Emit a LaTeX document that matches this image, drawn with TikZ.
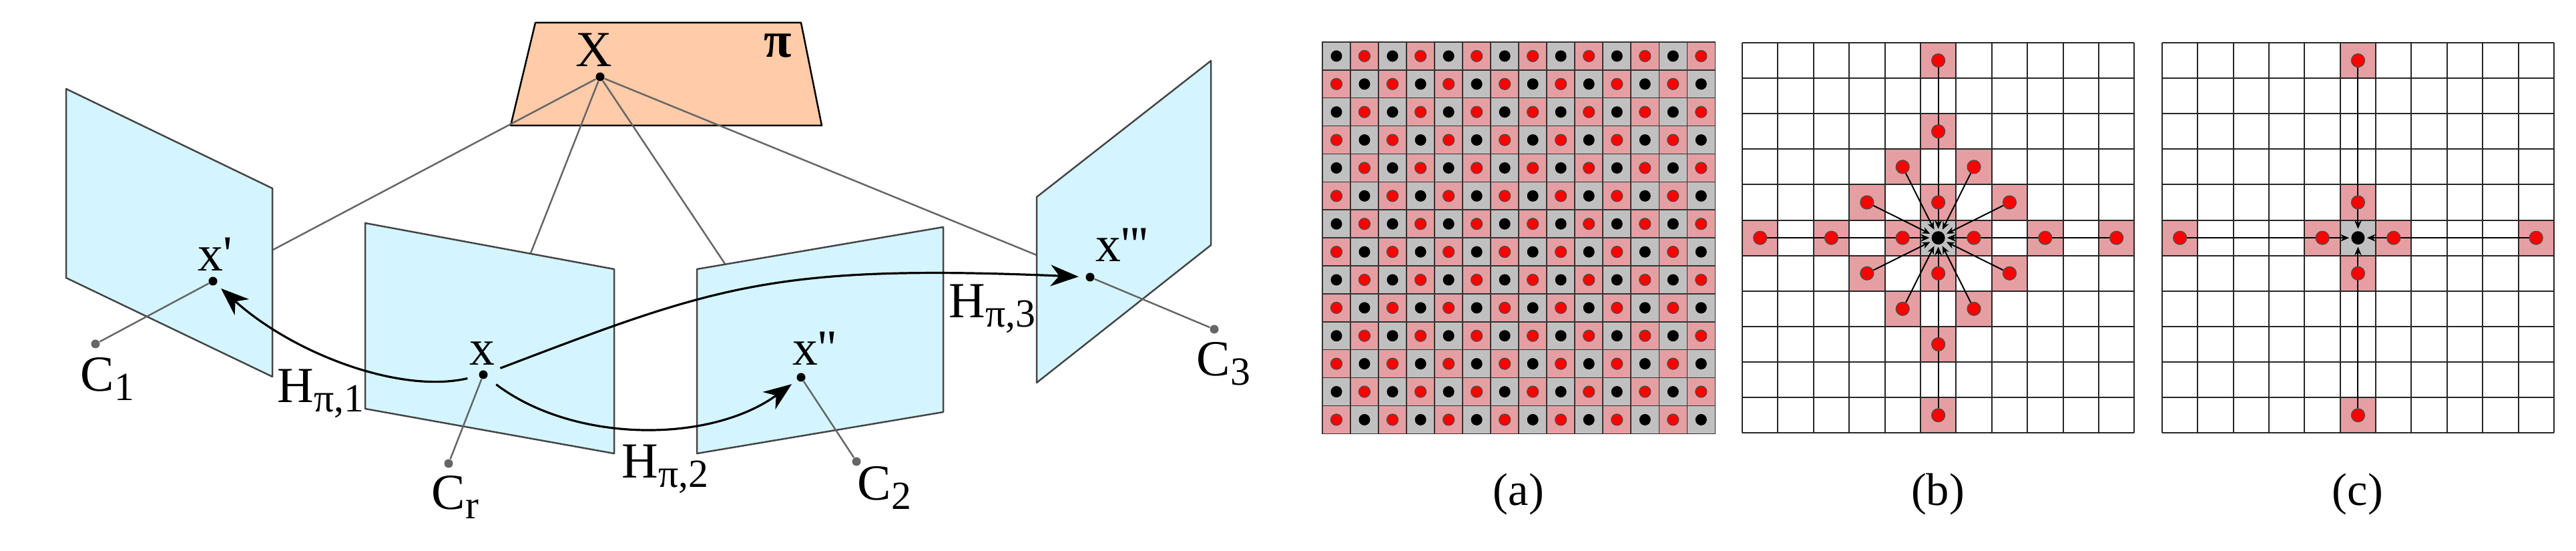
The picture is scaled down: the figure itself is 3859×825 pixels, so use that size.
\documentclass[tikz,border=0pt]{standalone}
\usepackage{fontspec}
\setmainfont{Liberation Serif}
\newfontfamily\rawserif{Liberation Serif}
\usetikzlibrary{arrows.meta}
\definecolor{planeblue}{HTML}{D4F5FF}
\definecolor{planepeach}{HTML}{FFCBA8}
\definecolor{cellpink}{HTML}{E59FA2}
\definecolor{cellgray}{HTML}{C0C0C0}
\definecolor{edgegray}{HTML}{454545}
\definecolor{raygray}{HTML}{666666}
\pgfdeclarelayer{under}
\pgfsetlayers{under,main}
\newcommand{\lowsub}[1]{\raisebox{-0.13cm}{\fontsize{17}{18}\selectfont #1}}
\tikzset{
  viewplane/.style={draw=edgegray,line width=0.025cm,fill=planeblue,line join=round},
  refplane/.style={draw=black,line width=0.025cm,fill=planepeach,line join=round},
  rayline/.style={draw=raygray,line width=0.025cm},
  warparrow/.style={-{Stealth[length=0.42cm,width=0.32cm,inset=0.13cm]},line width=0.032cm,draw=black},
  imgdot/.style={circle,fill=black,inner sep=0pt,minimum size=0.13cm},
  camdot/.style={circle,fill=raygray,inner sep=0pt,minimum size=0.13cm},
  figtext/.style={inner sep=0pt,font=\fontsize{21.5}{24}\selectfont},
  captext/.style={inner sep=0pt,font=\fontsize{19.5}{22}\selectfont},
  pinkcell/.style={fill=cellpink},
  graycell/.style={fill=cellgray},
  cellbox/.style={draw=black!80,line width=0.016cm,minimum size=0.42cm,inner sep=0pt},
  reddot/.style={circle,draw=black!70,line width=0.012cm,fill=red,inner sep=0pt,minimum size=0.2cm},
  blackdot/.style={circle,fill=black,inner sep=0pt,minimum size=0.2cm},
  gridline/.style={draw=black!85,line width=0.02cm},
  kernelarrow/.style={-{Stealth[length=0.12cm,width=0.1cm]},line width=0.02cm,draw=black,shorten >=0.03cm}
}
\begin{document}
\begin{tikzpicture}[x=0.01cm,y=-0.01cm]
\useasboundingbox (0,0) rectangle (3859,825);
\coordinate (hitone) at (409,374);
\coordinate (hitref) at (795,379);
\coordinate (hittwo) at (1086,395);
\coordinate (hitthree) at (1553,382);
\draw[refplane] (802,34) -- (1200,34) -- (1231,188) -- (765,188) -- cycle;
\node[imgdot] (ptX) at (899,115) {};
\node[figtext,anchor=base] (labX) at (890,100) {X};
\node[figtext,anchor=base,font=\fontsize{21.5}{24}\selectfont\bfseries] (labpi) at (1165,86) {π};
\draw[rayline] (ptX) -- (hitone);
\draw[rayline] (ptX) -- (hitref);
\draw[rayline] (ptX) -- (hittwo);
\draw[rayline] (ptX) -- (hitthree);
\draw[viewplane] (99,133) -- (408,282) -- (408,564) -- (99,416) -- cycle;
\draw[viewplane] (547,334) -- (920,403) -- (920,679) -- (547,612) -- cycle;
\draw[viewplane] (1044,403) -- (1413,340) -- (1413,617) -- (1044,679) -- cycle;
\draw[viewplane] (1553,295) -- (1814,91) -- (1814,367) -- (1553,573) -- cycle;
\node[imgdot] (ptone) at (319,421) {};
\node[imgdot] (ptref) at (724,561) {};
\node[imgdot] (pttwo) at (1200,565) {};
\node[imgdot] (ptthree) at (1633,415) {};
\node[camdot] (camone) at (143,515) {};
\node[camdot] (camref) at (672,694) {};
\node[camdot] (camtwo) at (1283,691) {};
\node[camdot] (camthree) at (1819,493) {};
\draw[rayline] (camone) -- (ptone);
\draw[rayline] (camref) -- (ptref);
\draw[rayline] (camtwo) -- (pttwo);
\draw[rayline] (camthree) -- (ptthree);
\draw[warparrow,shorten <=0.17cm,shorten >=0.09cm] (ptref) .. controls (600,590) and (440,530) .. (ptone);
\draw[warparrow,shorten <=0.17cm,shorten >=0.1cm] (ptref) .. controls (860,664) and (1064,664) .. (pttwo);
\draw[warparrow,shorten <=0.2cm,shorten >=0.1cm] (ptref) .. controls (1071,429) and (1157,395) .. (ptthree);
\node[figtext,anchor=base west] (labone) at (296,406) {x{\rawserif'}};
\node[figtext,anchor=base west] (labref) at (703,547) {x};
\node[figtext,anchor=base west] (labtwo) at (1187,547) {x{\rawserif''}};
\node[figtext,anchor=base west] (labthree) at (1641,392) {x{\rawserif'''}};
\node[figtext,anchor=base west] (labcamone) at (120,586) {C\lowsub{1}};
\node[figtext,anchor=base west] (labcamref) at (646,763) {C\lowsub{r}};
\node[figtext,anchor=base west] (labcamtwo) at (1284,749) {C\lowsub{2}};
\node[figtext,anchor=base west] (labcamthree) at (1792,563) {C\lowsub{3}};
\node[figtext,anchor=base west] (labHone) at (415,603) {H\lowsub{π,1}};
\node[figtext,anchor=base west] (labHtwo) at (931,716) {H\lowsub{π,2}};
\node[figtext,anchor=base west] (labHthree) at (1421,476) {H\lowsub{π,3}};
\begin{scope}[shift={(1981,63)},x=0.42cm,y=-0.4186cm]
\foreach \c in {0,...,13}
  \foreach \r in {0,...,13}{
    \pgfmathtruncatemacro{\odd}{mod(\c+\r,2)}
    \ifnum\odd=1
      \node[cellbox,pinkcell] (acell\c-\r) at (\c+0.5,\r+0.5) {};
      \node[reddot,minimum size=0.17cm] (adot\c-\r) at (acell\c-\r) {};
    \else
      \node[cellbox,graycell] (acell\c-\r) at (\c+0.5,\r+0.5) {};
      \node[blackdot,minimum size=0.17cm] (adot\c-\r) at (acell\c-\r) {};
    \fi
  }
\end{scope}
\begin{scope}[shift={(2610,64)},x=0.5336cm,y=-0.5309cm]
\node[blackdot] (bcentre) at (5.5,5.5) {};
\begin{pgfonlayer}{under}
\fill[graycell] (5,5) rectangle (6,6);
\foreach \dx/\dy in {0/-5,0/-3,0/-1,0/1,0/3,0/5,-5/0,-3/0,-1/0,1/0,3/0,5/0,-1/-2,1/-2,-2/-1,2/-1,-2/1,2/1,-1/2,1/2}
  \fill[pinkcell] (5+\dx,5+\dy) rectangle +(1,1);
\foreach \k in {0,...,11}{
  \draw[gridline] (\k,0) -- (\k,11);
  \draw[gridline] (0,\k) -- (11,\k);
}
\end{pgfonlayer}
\foreach \dx/\dy [count=\i] in {0/-5,0/-3,0/-1,0/1,0/3,0/5,-5/0,-3/0,-1/0,1/0,3/0,5/0,-1/-2,1/-2,-2/-1,2/-1,-2/1,2/1,-1/2,1/2}{
  \node[reddot] (bdot\i) at (5.5+\dx,5.5+\dy) {};
  \begin{pgfonlayer}{under}
  \draw[kernelarrow] (bdot\i) -- (bcentre);
  \end{pgfonlayer}
}
\end{scope}
\begin{scope}[shift={(3239,64)},x=0.5332cm,y=-0.5309cm]
\node[blackdot] (ccentre) at (5.5,5.5) {};
\begin{pgfonlayer}{under}
\fill[graycell] (5,5) rectangle (6,6);
\foreach \dx/\dy in {0/-5,0/-1,0/1,0/5,-5/0,-1/0,1/0,5/0}
  \fill[pinkcell] (5+\dx,5+\dy) rectangle +(1,1);
\foreach \k in {0,...,11}{
  \draw[gridline] (\k,0) -- (\k,11);
  \draw[gridline] (0,\k) -- (11,\k);
}
\end{pgfonlayer}
\foreach \dx/\dy [count=\i] in {0/-5,0/-1,0/1,0/5,-5/0,-1/0,1/0,5/0}{
  \node[reddot] (cdot\i) at (5.5+\dx,5.5+\dy) {};
  \begin{pgfonlayer}{under}
  \draw[kernelarrow] (cdot\i) -- (ccentre);
  \end{pgfonlayer}
}
\end{scope}
\node[captext] (capa) at (2275,740) {(a)};
\node[captext] (capb) at (2903,740) {(b)};
\node[captext] (capc) at (3532,740) {(c)};
\end{tikzpicture}
\end{document}
